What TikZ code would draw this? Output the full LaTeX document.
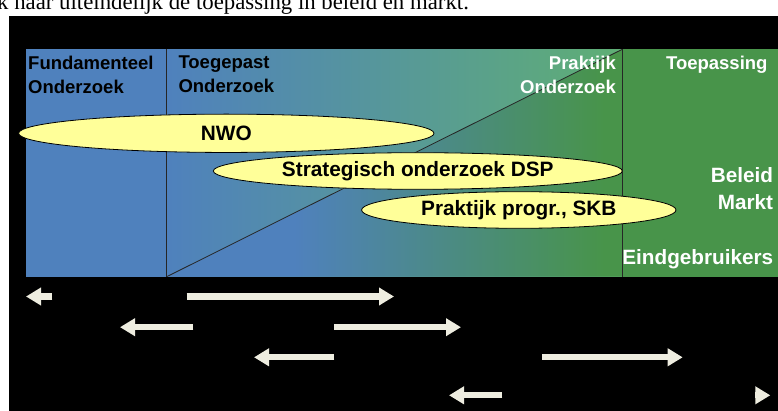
\documentclass[tikz,border=0pt]{standalone}
\usepackage{fontspec}
\setmainfont{Liberation Serif}
\setsansfont{Liberation Sans}
\usetikzlibrary{shapes.geometric,arrows.meta}
\definecolor{panelblue}{HTML}{4F81BD}
\definecolor{panelgreen}{HTML}{48944A}
\definecolor{lightgreen}{HTML}{5FAF74}
\definecolor{arrowcream}{HTML}{EEEDE0}
\definecolor{bubbleyellow}{HTML}{FFFF99}
\pgfdeclarehorizontalshading{lowshade}{100bp}{color(0bp)=(panelblue); color(39bp)=(panelblue); color(73bp)=(panelgreen); color(100bp)=(panelgreen)}

\begin{document}
\begin{tikzpicture}[x=1pt,y=-1pt,
	heading/.style={font=\sffamily\bfseries\fontsize{18.5}{24.3}\selectfont,inner sep=0pt},
	sidelabel/.style={font=\sffamily\bfseries\fontsize{20.7}{26.6}\selectfont,inner sep=0pt,text=white},
	bubble/.style={ellipse,draw=black,line width=0.8pt,fill=bubbleyellow,inner sep=0pt,font=\sffamily\bfseries\fontsize{20.8}{25}\selectfont},
	divider/.style={draw=black!85,line width=0.8pt},
	flowarrow/.style={draw=arrowcream,line width=6.3pt,-{Triangle[length=15pt,width=17pt]}}]
	\useasboundingbox (0,0) rectangle (778,411);
	\clip (0,0) rectangle (778,411);
	\node[anchor=base west,inner sep=0pt,font=\fontsize{22.8}{26}\selectfont] (intro) at (-3,9.5) {k naar uiteindelijk de toepassing in beleid en markt.};
	\fill[black] (9,16) rectangle (778,411);
	\fill[panelblue] (26,49.3) rectangle (166.7,276.7);
	\shade[left color=panelblue,right color=lightgreen] (166.7,49.3) rectangle (622.3,276.7);
	\shade[shading=lowshade] (166.7,276.7) -- (622.3,49.3) -- (622.3,276.7) -- cycle;
	\fill[panelgreen] (622.3,49.3) rectangle (778,276.7);
	\coordinate (T1) at (166.7,49.3);
	\coordinate (B1) at (166.7,276.7);
	\coordinate (T2) at (622.3,49.3);
	\coordinate (B2) at (622.3,276.7);
	\draw[divider] (T1) -- (B1);
	\draw[divider] (T2) -- (B2);
	\draw[divider] (B1) -- (T2);
	\node[heading,anchor=north west,align=left] (fund) at (28,55.5) {Fundamenteel\\Onderzoek};
	\node[heading,anchor=north west,align=left] (toeg) at (178.3,55.5) {Toegepast\\Onderzoek};
	\node[heading,anchor=north east,align=right,text=white] (prak) at (616,55.5) {Praktijk\\Onderzoek};
	\node[heading,anchor=north east,text=white] (toep) at (767.7,55.5) {Toepassing};
	\node[sidelabel,anchor=north east,align=right] (beleid) at (773.3,167.5) {Beleid\\Markt};
	\node[sidelabel,anchor=north east] (eind) at (773.3,249.3) {Eindgebruikers};
	\node[bubble,minimum width=415.4pt,minimum height=38.3pt] (nwo) at (226.3,133.3) {NWO};
	\node[bubble,minimum width=409pt,minimum height=36.6pt] (dsp) at (417.8,171) {Strategisch onderzoek DSP};
	\node[bubble,minimum width=314.4pt,minimum height=36.6pt] (skb) at (518.8,210) {Praktijk progr., SKB};
	\foreach \a/\b/\y [count=\i] in {52.3/26/296.5, 186.7/394/296.5, 193.3/120/327.2, 334.3/461/327.2, 334.3/254/357.3, 542.3/682.7/357.3, 502.3/449/395.3, 755.3/770.3/395.3}
	{
		\coordinate (s\i) at (\a,\y);
		\coordinate (e\i) at (\b,\y);
		\draw[flowarrow] (s\i) -- (e\i);
	}
\end{tikzpicture}
\end{document}
